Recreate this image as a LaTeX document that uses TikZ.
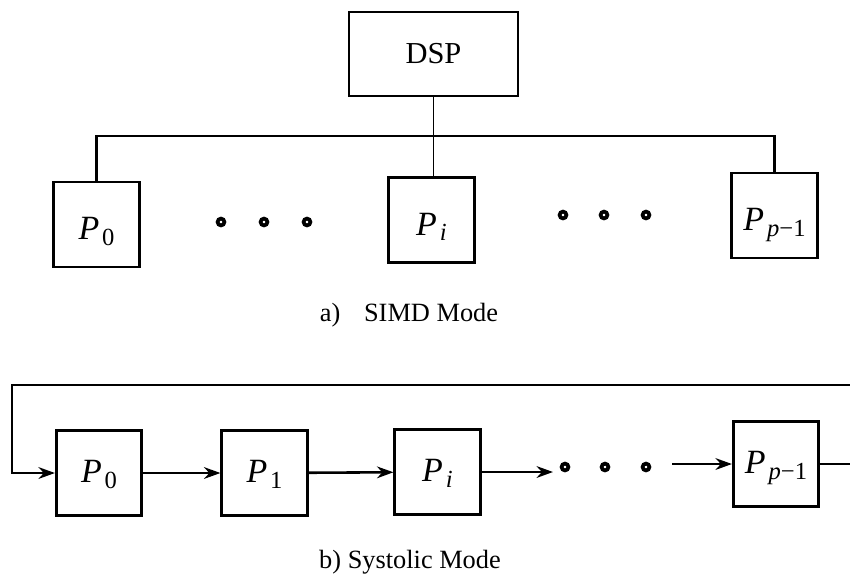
\documentclass[tikz,border=0pt]{standalone}
\usepackage{fontspec}
\setmainfont{Liberation Serif}
\usetikzlibrary{arrows.meta, positioning}
\newcommand{\proc}[1]{\textit{P}\kern2.5pt\raisebox{-5pt}{\fontsize{21}{21}\selectfont #1}}
\tikzset{
  pbox/.style={rectangle, draw, line width=2.4pt, inner sep=0pt,
    minimum width=2.56cm, minimum height=2.55cm, text depth=0pt,
    font=\fontsize{29}{29}\selectfont},
  toprow/.style={pbox, text height=0.9cm},
  botrow/.style={pbox, text height=0.56cm},
  hostbox/.style={rectangle, draw, line width=2.4pt, minimum width=5.07cm,
    minimum height=2.52cm, font=\fontsize{26}{26}\selectfont},
  bus/.style={line width=2.2pt},
  arrow/.style={-{Stealth[length=14pt,width=10pt]}, line width=2.2pt},
  dot/.style={line width=3.2pt},
  caption/.style={font=\fontsize{22.5}{22.5}\selectfont}
}
\begin{document}
\begin{tikzpicture}[x=0.03cm, y=-0.03cm]
  \useasboundingbox (0,0) rectangle (850,576);

  % a) SIMD mode
  \node[hostbox] (dsp) at (433.5,54) {DSP};
  \node[toprow] (t0) at (96.5,224.5) {\proc{0}};
  \node[toprow] (ti) at (431.5,220) {\proc{\textit{i}}};
  \node[toprow] (tl) at (774.5,215.5) {\proc{\textit{p}−1}};
  \coordinate (bus) at (434,136);
  \draw[line width=1.5pt] (dsp.south) -- (dsp.south |- ti.north);
  \draw[bus] (t0.north) |- (bus) -| (tl.north);
  \foreach \x in {221,264,307} \draw[dot] (\x,222) circle (3.4);
  \foreach \x in {563,604,646} \draw[dot] (\x,215) circle (3.4);
  \node[caption] (capa) at (409,315) {a)\hspace{0.9em}SIMD Mode};

  % b) systolic mode
  \node[botrow] (b0) at (99,473) {\proc{0}};
  \node[botrow] (b1) at (264.5,473) {\proc{1}};
  \node[botrow] (bi) at (437.5,472) {\proc{\textit{i}}};
  \node[botrow] (bl) at (776,464) {\proc{\textit{p}−1}};
  \coordinate (dl) at (553,470);
  \coordinate (dr) at (672,466);
  \draw[arrow] (b0) -- (b1);
  \draw[arrow] (b1) -- (bi);
  \draw[arrow] (bi.east) -- (bi.east -| dl);
  \foreach \x in {565,605,646} \draw[dot] (\x,467) circle (3.4);
  \draw[arrow] (dr |- bl.west) -- (bl.west);
  \draw[arrow] (bl.east) -- (870,464) |- (12,385) |- (b0.west);
  \node[caption] (capb) at (410,562) {b) Systolic Mode};
\end{tikzpicture}
\end{document}
